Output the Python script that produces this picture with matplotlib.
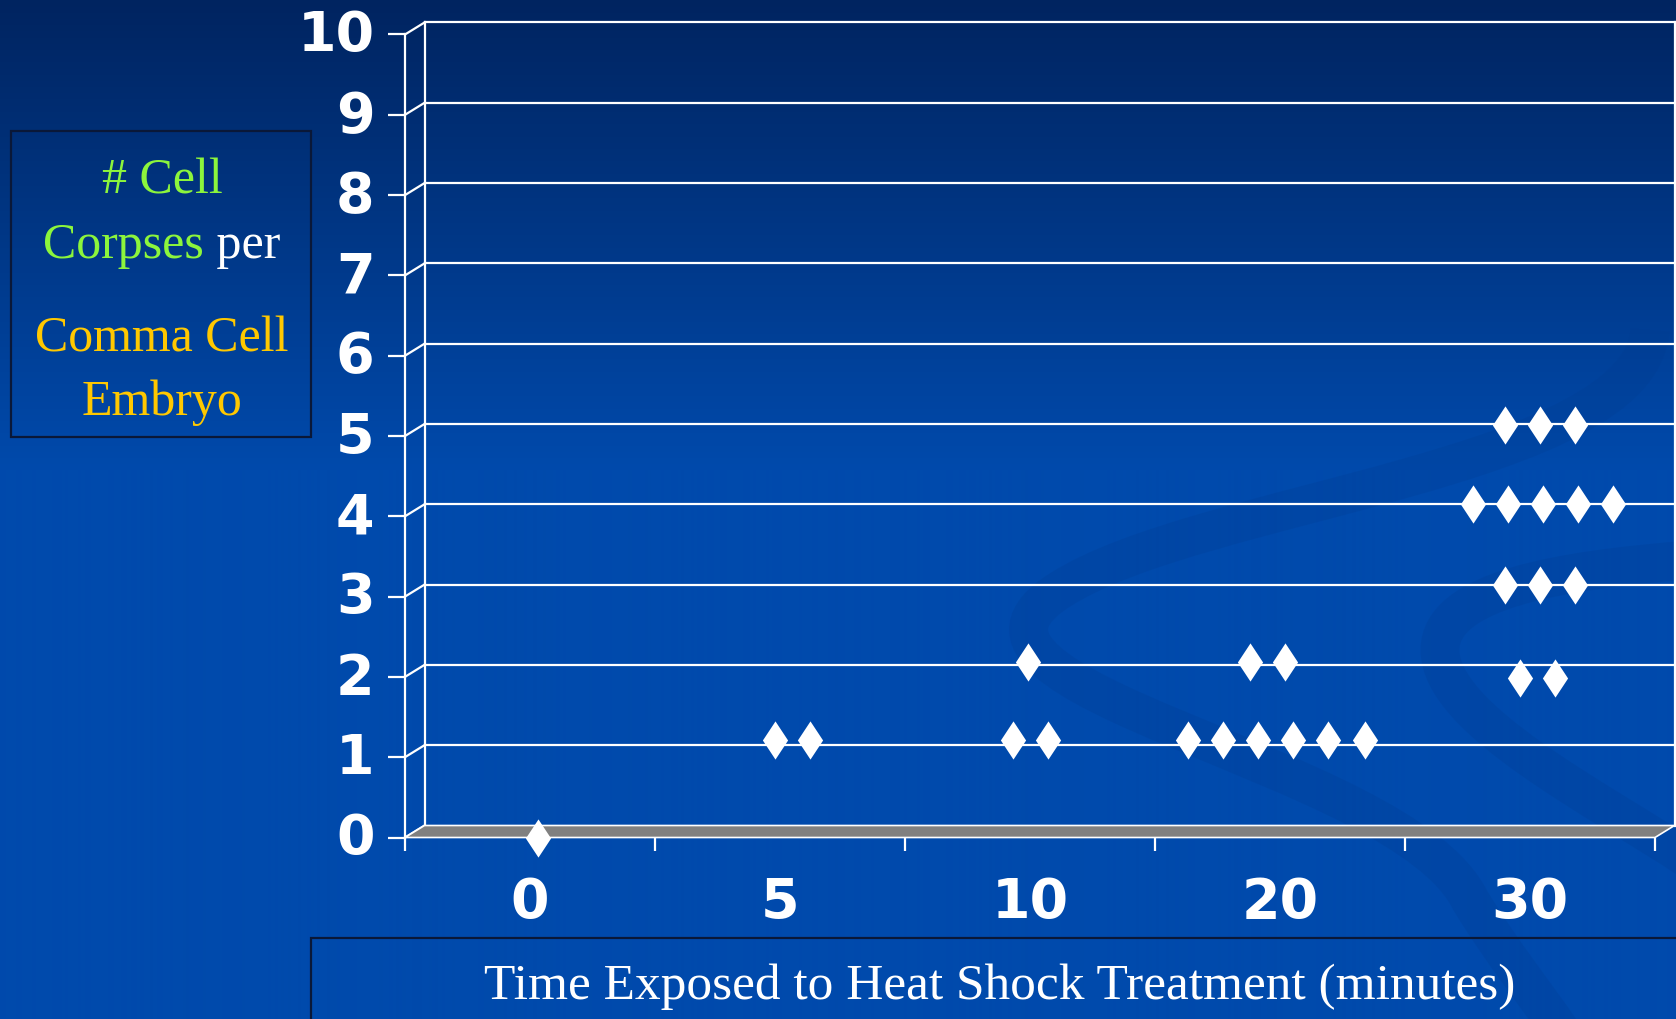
#!/usr/bin/env python3
"""
Cell corpses per comma-stage embryo vs. heat shock exposure time
(pseudo-3D scatter, slide style)
"""

import numpy as np
import matplotlib
matplotlib.use('Agg')
import matplotlib.pyplot as plt
import matplotlib.transforms as mtransforms
from matplotlib.path import Path
from matplotlib.patches import PathPatch, Polygon, Rectangle

# ---- data -------------------------------------------------------------
times = ['0', '5', '10', '20', '30']
y_ticks = [0, 1, 2, 3, 4, 5, 6, 7, 8, 9, 10]

# one diamond per embryo; x is in category units (0..4), y = corpses
x_t0 = [0.03]
y_t0 = [0.0]
x_t5 = [0.98, 1.12]
y_t5 = [1.21, 1.21]
x_t10 = [1.93, 2.07, 1.99]
y_t10 = [1.21, 1.21, 2.19]
x_t20 = [2.63, 2.77, 2.91, 3.05, 3.19, 3.34, 2.88, 3.02]
y_t20 = [1.21, 1.21, 1.21, 1.21, 1.21, 1.21, 2.19, 2.19]
x_t30 = [3.96, 4.10,
         3.90, 4.04, 4.18,
         3.77, 3.91, 4.05, 4.19, 4.33,
         3.90, 4.04, 4.18]
y_t30 = [1.99, 1.99,
         3.14, 3.14, 3.14,
         4.15, 4.15, 4.15, 4.15, 4.15,
         5.14, 5.14, 5.14]

# ---- figure -----------------------------------------------------------
W, H = 1676, 1019
fig = plt.figure(figsize=(W / 100, H / 100), dpi=100)

# background gradient
bg = fig.add_axes([0, 0, 1, 1])
bg.set_axis_off()
bg.set_xlim(0, 1)
bg.set_ylim(0, 1)
top = np.array([0, 36, 96]) / 255
mid = np.array([0, 74, 172]) / 255
rows = np.arange(H)
t = np.clip(rows / 470.0, 0, 1)[:, None]
grad = top + (mid - top) * t
bg.imshow(grad[:, None, :].repeat(2, axis=1), extent=[0, 1, 0, 1],
          aspect='auto', origin='upper', zorder=0)


def fpx(x, y):
    return (x / W, 1 - y / H)


# faint decorative swirls of the slide template
swirl_a = Path([fpx(1650, 330), fpx(1640, 470), fpx(1200, 500), fpx(1060, 590),
                fpx(900, 690), fpx(1400, 760), fpx(1470, 900),
                fpx(1500, 950), fpx(1540, 1000), fpx(1560, 1030)],
               [Path.MOVETO] + [Path.CURVE4] * 9)
swirl_b = Path([fpx(1690, 560), fpx(1560, 570), fpx(1440, 590), fpx(1440, 650),
                fpx(1440, 720), fpx(1600, 800), fpx(1690, 860)],
               [Path.MOVETO] + [Path.CURVE4] * 6)
for p in (swirl_a, swirl_b):
    bg.add_patch(PathPatch(p, fc='none', ec='#003b8e', lw=28, alpha=0.22,
                           capstyle='butt', zorder=1))

# ---- main chart (front plane) ------------------------------------------
x0, x1 = 405, 1655
y0, y1 = 837.5, 34.5
ax = fig.add_axes([x0 / W, (H - y0) / H, (x1 - x0) / W, (y0 - y1) / H])
ax.set_xlim(-0.5, 4.5)
ax.set_ylim(0, 10)
ax.patch.set_alpha(0)

white = 'white'
lw = 1.6
dx = 19.5 / (x1 - x0) * 5     # depth offset in data units
dy = 12.0 / (y0 - y1) * 10

for s in ['top', 'right', 'bottom']:
    ax.spines[s].set_visible(False)
ax.spines['left'].set_color(white)
ax.spines['left'].set_linewidth(lw)

# back wall
for v in y_ticks[1:]:
    ax.plot([-0.5 + dx, 4.5 + dx], [v + dy, v + dy], color=white, lw=lw,
            clip_on=False, zorder=2)
ax.plot([-0.5 + dx, -0.5 + dx], [dy, 10 + dy], color=white, lw=lw, clip_on=False, zorder=2)
ax.plot([4.5 + dx, 4.5 + dx], [dy, 10 + dy], color=white, lw=lw, clip_on=False, zorder=2)
# depth connectors from front axis to wall
for v in y_ticks:
    ax.plot([-0.5, -0.5 + dx], [v, v + dy], color=white, lw=lw, clip_on=False, zorder=2)

# floor
floor = Polygon([(-0.5, 0), (4.5, 0), (4.5 + dx, dy), (-0.5 + dx, dy)],
                closed=True, fc='#808080', ec=white, lw=1.2, clip_on=False, zorder=3)
ax.add_patch(floor)

# diamonds
diamond = [(0, 1), (0.66, 0), (0, -1), (-0.66, 0), (0, 1)]
for xs, ys in [(x_t0, y_t0), (x_t5, y_t5), (x_t10, y_t10), (x_t20, y_t20), (x_t30, y_t30)]:
    ax.plot(xs, ys, linestyle='none', marker=diamond, markersize=27.5,
            color=white, markeredgewidth=0, clip_on=False, zorder=5)

# ticks and labels
tick_font = dict(family='DejaVu Sans', weight='bold', size=40)
ax.set_yticks(y_ticks)
ax.set_yticklabels([str(v) for v in y_ticks], fontdict=tick_font, color=white)
ax.tick_params(axis='y', direction='out', length=12, width=lw, color=white, pad=10)
nudge_up = mtransforms.ScaledTranslation(0, 3 / 72, fig.dpi_scale_trans)
for lab in ax.get_yticklabels():
    lab.set_transform(lab.get_transform() + nudge_up)

ax.set_xticks(range(len(times)))
ax.set_xticklabels(times, fontdict=tick_font, color=white)
ax.set_xticks(np.arange(-0.5, 5, 1.0), minor=True)
ax.tick_params(axis='x', which='major', length=0, pad=28)
ax.tick_params(axis='x', which='minor', direction='out', length=9.5, width=lw, color=white)

# ---- text boxes --------------------------------------------------------
serif = 'Liberation Serif'
green = '#8CF53C'
gold = '#FFC800'
edge = '#0a1838'

fig.patches.append(Rectangle(fpx(11, 436.5), 300 / W, 305.5 / H, transform=fig.transFigure,
                             fc='none', ec=edge, lw=1.6, zorder=3))
cx = 162 / W
fig.text(cx, 1 - 193 / H, '# Cell', color=green, family=serif, size=36,
         ha='center', va='baseline')
t1 = fig.text(cx, 1 - 258 / H, 'Corpses', color=green, family=serif, size=36,
              ha='left', va='baseline')
t2 = fig.text(cx, 1 - 258 / H, ' per', color=white, family=serif, size=36,
              ha='left', va='baseline')
fig.text(cx, 1 - 352 / H, 'Comma Cell', color=gold, family=serif, size=36,
         ha='center', va='baseline')
fig.text(cx, 1 - 415 / H, 'Embryo', color=gold, family=serif, size=36,
         ha='center', va='baseline')

# centre the two-colour line
renderer = fig.canvas.get_renderer()
w1 = t1.get_window_extent(renderer).width / W
w2 = t2.get_window_extent(renderer).width / W
start = cx - (w1 + w2) / 2
t1.set_x(start)
t2.set_x(start + w1)

fig.patches.append(Rectangle(fpx(311, 1030), 1400 / W, 92 / H, transform=fig.transFigure,
                             fc='none', ec=edge, lw=1.6, zorder=3))
fig.text(1000 / W, 1 - 987 / H, 'Time Exposed to Heat Shock Treatment (minutes)',
         color=white, family=serif, size=37, ha='center', va='center')

plt.savefig('out.png', dpi=100)
